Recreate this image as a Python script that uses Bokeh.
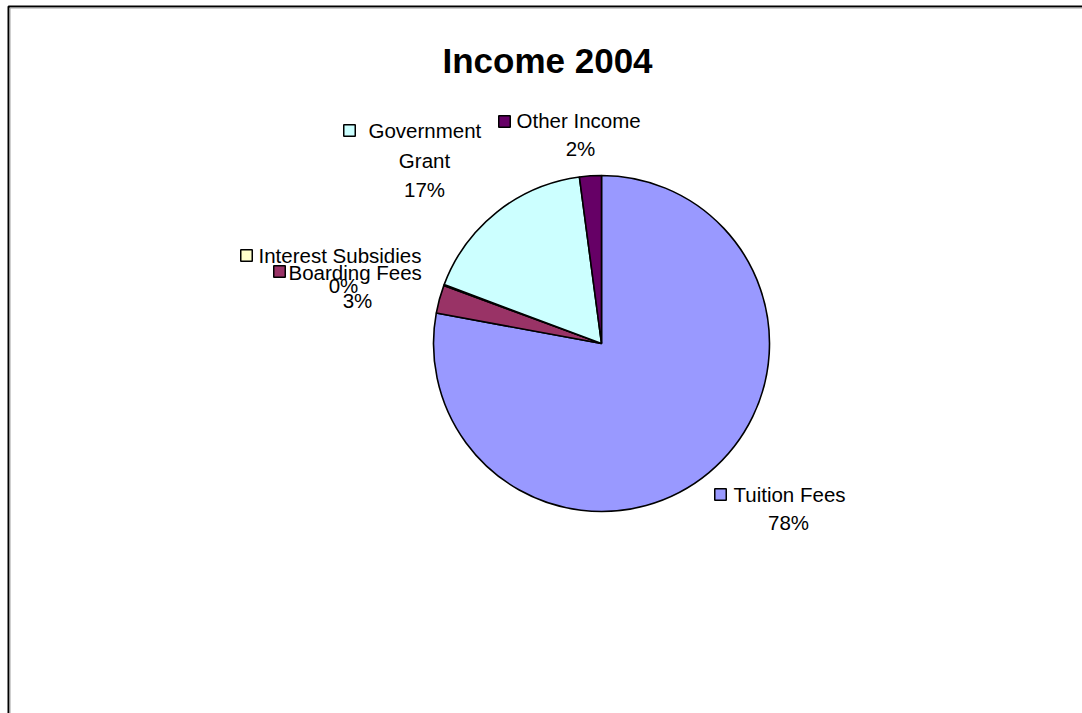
import math
from bokeh.plotting import figure
from bokeh.models import Range1d, ColumnDataSource
from bokeh.core.properties import value
from bokeh.embed import file_html
from bokeh.resources import INLINE

# ---------------- data ----------------
title_text = "Income 2004"
categories = ["Tuition Fees", "Boarding Fees", "Interest Subsidies", "Government Grant", "Other Income"]
amounts = [77.9, 2.7, 0.1, 17.2, 2.1]
colors = ["#9999FF", "#993366", "#FFFFCC", "#CCFFFF", "#660066"]

# ---------------- layout (pixels, y down) ----------------
W, H = 1082, 713
CX, CY, R = 601, 343, 168
FONT = "Liberation Sans"
label_layout = {
    "Tuition Fees":       {"key": (720, 494), "name_x": 733, "wrap": ["Tuition Fees"], "center_x": 788, "ys": [494, 522]},
    "Boarding Fees":      {"key": (279, 271), "name_x": 288, "wrap": ["Boarding Fees"], "center_x": 357, "ys": [272, 300]},
    "Interest Subsidies": {"key": (246, 255), "name_x": 258, "wrap": ["Interest Subsidies"], "center_x": 343, "ys": [255, 285]},
    "Government Grant":   {"key": (349, 130), "name_x": 368, "wrap": ["Government", "Grant"], "center_x": 424, "ys": [130, 160, 189]},
    "Other Income":       {"key": (504, 121), "name_x": 516, "wrap": ["Other Income"], "center_x": 580, "ys": [120, 148]},
}


def fy(py):
    return H - py


total = sum(amounts)
fracs = [a / total for a in amounts]
starts, ends = [], []
cum = 0.0
for f in fracs:
    starts.append(math.pi / 2 - 2 * math.pi * cum)
    cum += f
    ends.append(math.pi / 2 - 2 * math.pi * cum)
pcts = [f"{round(f * 100)}%" for f in fracs]

p = figure(width=W, height=H, x_range=Range1d(0, W), y_range=Range1d(0, H),
           min_border=0, toolbar_location=None, output_backend="svg",
           x_axis_location=None, y_axis_location=None)
p.grid.visible = False
p.outline_line_color = None
p.background_fill_color = "white"
p.border_fill_color = "white"

# chart area border (cropped on right/bottom)
p.quad(left=[8], right=[W + 50], top=[fy(6)], bottom=[-50],
       fill_color=None, line_color="black", line_width=2)
p.quad(left=[9.5], right=[W + 50], top=[fy(7.5)], bottom=[-50],
       fill_color=None, line_color="#a0a0a0", line_width=1)

src = ColumnDataSource(dict(cat=categories, start=starts, end=ends, color=colors))
p.wedge(x=CX, y=fy(CY), radius=R, start_angle="start", end_angle="end",
        direction="clock", fill_color="color", line_color="black", line_width=1.6,
        source=src)

# title
p.text(x=[547], y=[fy(60)], text=[title_text], text_font=value(FONT),
       text_font_size="35px", text_font_style="bold", text_align="center",
       text_baseline="middle", text_color="black")

# labels
for cat, col, pct in zip(categories, colors, pcts):
    lay = label_layout[cat]
    kx, ky = lay["key"]
    p.rect(x=[kx], y=[fy(ky)], width=11.5, height=11.5, fill_color=col,
           line_color="black", line_width=1.5)
    lines = lay["wrap"]
    ys = lay["ys"]
    p.text(x=[lay["name_x"]], y=[fy(ys[0])], text=[lines[0]], text_font=value(FONT),
           text_font_size="20.5px", text_align="left", text_baseline="middle",
           text_color="black")
    rest = lines[1:] + [pct]
    for t, yy in zip(rest, ys[1:]):
        p.text(x=[lay["center_x"]], y=[fy(yy)], text=[t], text_font=value(FONT),
               text_font_size="20.5px", text_align="center", text_baseline="middle",
               text_color="black")

open("out.html", "w").write(file_html(p, INLINE))
